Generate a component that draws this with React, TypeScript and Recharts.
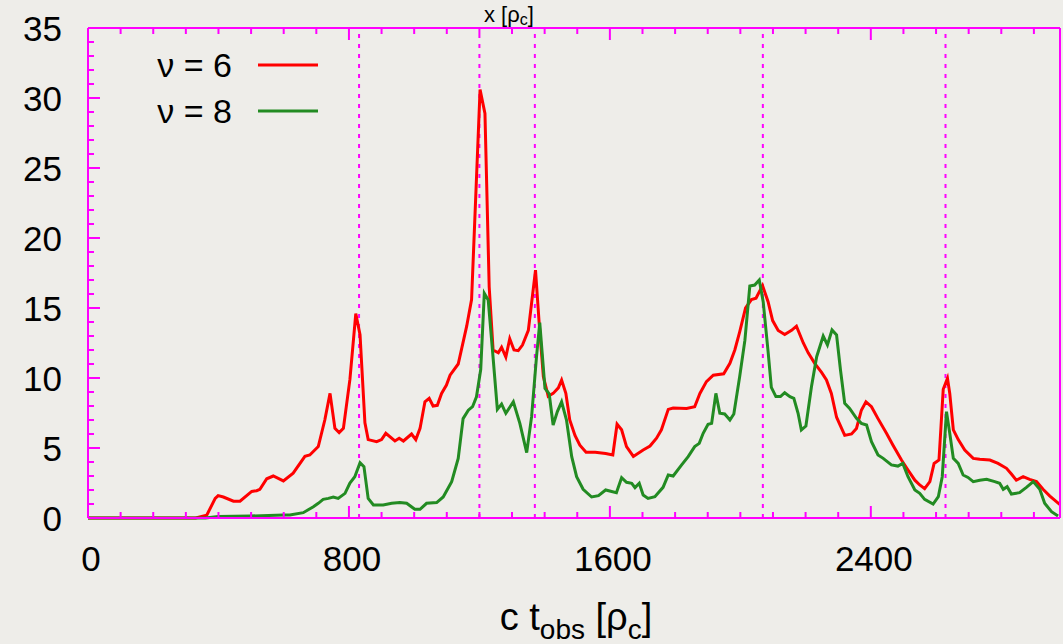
import React from "react";
import { LineChart, Line, XAxis, YAxis, ReferenceLine, Legend } from "recharts";

// nu = 6 (red)
const nu6T = [
  0, 330, 364, 390, 399, 415, 446, 466, 502, 517, 527, 548, 568, 599, 629, 665, 680, 706, 726, 742,
  757, 770, 783, 803, 821, 834, 849, 859, 885, 900, 913, 941, 954, 967, 992, 1005, 1018, 1033, 1046, 1058,
  1071, 1084, 1099, 1110, 1135, 1161, 1176, 1202, 1217, 1230, 1242, 1258, 1268, 1281, 1293, 1306, 1319, 1332, 1350, 1372,
  1383, 1396, 1411, 1426, 1442, 1452, 1465, 1477, 1493, 1508, 1527, 1555, 1587, 1609, 1622, 1636, 1651, 1672, 1702, 1723,
  1743, 1758, 1779, 1794, 1835, 1860, 1876, 1896, 1917, 1949, 1968, 1983, 1998, 2016, 2034, 2048, 2068, 2085, 2099, 2116,
  2136, 2157, 2172, 2193, 2208, 2228, 2249, 2264, 2279, 2295, 2320, 2341, 2356, 2371, 2385, 2402, 2422, 2448, 2468, 2494,
  2514, 2535, 2550, 2565, 2581, 2594, 2609, 2622, 2635, 2642, 2653, 2668, 2688, 2714, 2734, 2765, 2790, 2816, 2831, 2846,
  2867, 2887, 2908, 2928, 2949, 2980,
];
const nu6Y = [
  0, 0, 0.2, 1.4, 1.6, 1.5, 1.2, 1.2, 1.9, 1.95, 2.05, 2.8, 3.0, 2.65, 3.2, 4.4, 4.5, 5.1, 7.0, 8.9,
  6.4, 6.1, 6.4, 9.9, 14.6, 13.1, 6.8, 5.6, 5.45, 5.6, 6.05, 5.5, 5.7, 5.5, 6.0, 5.6, 6.4, 8.3, 8.55, 8.0,
  8.05, 8.9, 9.5, 10.2, 11.0, 13.7, 15.6, 30.6, 28.9, 16.5, 12.0, 11.8, 12.2, 11.5, 12.8, 12.0, 11.95, 12.35, 13.4, 17.7,
  14.0, 10.1, 8.7, 8.9, 9.3, 9.85, 8.9, 7.0, 5.9, 5.2, 4.7, 4.7, 4.6, 4.5, 6.7, 6.3, 5.1, 4.4, 4.86, 5.14,
  5.7, 6.3, 7.76, 7.86, 7.83, 7.95, 8.9, 9.74, 10.2, 10.3, 11.05, 12.0, 13.3, 15.0, 15.6, 15.7, 16.6, 15.45, 14.1, 13.4,
  13.1, 13.4, 13.7, 12.5, 11.8, 11.05, 10.4, 9.86, 8.9, 7.2, 5.9, 6.0, 6.4, 7.7, 8.3, 7.95, 7.1, 6.05, 5.2, 4.14,
  3.43, 2.7, 2.36, 2.1, 2.6, 3.9, 4.14, 9.2, 9.98, 8.9, 6.3, 5.6, 4.86, 4.26, 4.19, 4.14, 3.9, 3.55, 3.14, 2.7,
  2.95, 2.76, 2.6, 2.05, 1.57, 0.95,
];

// nu = 8 (green)
const nu8T = [
  0, 360, 399, 497, 599, 619, 660, 691, 706, 721, 737, 752, 767, 788, 803, 818, 834, 846, 859, 875,
  905, 931, 956, 977, 1002, 1018, 1038, 1069, 1089, 1115, 1135, 1150, 1166, 1179, 1191, 1204, 1215, 1227, 1240, 1255,
  1268, 1281, 1304, 1324, 1345, 1360, 1375, 1385, 1401, 1414, 1426, 1439, 1452, 1467, 1483, 1498, 1518, 1544, 1565, 1587,
  1620, 1636, 1651, 1667, 1677, 1690, 1702, 1717, 1738, 1763, 1779, 1794, 1820, 1840, 1860, 1874, 1886, 1901, 1912, 1925,
  1937, 1952, 1968, 1980, 1998, 2014, 2029, 2044, 2058, 2070, 2085, 2095, 2109, 2123, 2136, 2152, 2164, 2177, 2187, 2201,
  2218, 2234, 2254, 2267, 2281, 2295, 2307, 2320, 2335, 2356, 2371, 2387, 2402, 2422, 2438, 2463, 2483, 2498, 2514, 2535,
  2550, 2565, 2591, 2607, 2619, 2632, 2642, 2653, 2668, 2683, 2698, 2714, 2734, 2755, 2780, 2795, 2806, 2818, 2831, 2856,
  2877, 2898, 2918, 2933, 2954, 2974,
];
const nu8Y = [
  0, 0, 0.1, 0.14, 0.21, 0.21, 0.38, 0.8, 1.05, 1.33, 1.4, 1.5, 1.4, 1.76, 2.5, 2.95, 3.95, 3.67, 1.4, 0.93,
  0.93, 1.05, 1.1, 1.05, 0.62, 0.62, 1.05, 1.1, 1.5, 2.6, 4.26, 7.1, 7.7, 7.95, 8.66, 10.6, 16.05, 15.57, 12.0, 7.76,
  8.14, 7.48, 8.3, 6.76, 4.67, 7.24, 11.5, 13.95, 9.26, 8.86, 6.64, 7.6, 8.3, 7.0, 4.38, 2.95, 2.05, 1.5, 1.6, 2.0,
  1.8, 2.88, 2.55, 2.48, 2.17, 2.48, 1.64, 1.4, 1.52, 2.19, 3.07, 3.0, 3.79, 4.38, 5.1, 5.33, 6.05, 6.69, 6.76, 8.9,
  7.48, 7.43, 7.0, 7.43, 10.1, 12.7, 16.57, 16.64, 17.0, 15.45, 11.9, 9.33, 8.67, 8.67, 8.95, 8.67, 8.55, 7.48, 6.29, 6.57,
  9.38, 11.52, 13.0, 12.36, 13.43, 13.07, 10.57, 8.19, 7.83, 7.12, 6.76, 6.64, 5.45, 4.5, 4.26, 3.79, 3.71, 3.9, 2.95, 2.0,
  1.76, 1.33, 1.0, 1.52, 2.95, 7.6, 6.05, 4.26, 3.9, 3.07, 2.9, 2.6, 2.7, 2.76, 2.6, 2.48, 2.05, 2.24, 1.71, 1.81,
  2.19, 2.6, 2.05, 1.05, 0.45, 0.14,
];

const markerT = [831, 1200, 1370, 2069, 2629];

const xMajorTicks = [0, 800, 1600, 2400];
const xMinorTicks = [
  0, 100, 200, 300, 400, 500, 600, 700, 800, 900, 1000, 1100, 1200, 1300, 1400, 1500, 1600, 1700, 1800, 1900,
  2000, 2100, 2200, 2300, 2400, 2500, 2600, 2700, 2800, 2900,
];
const yMajorTicks = [0, 5, 10, 15, 20, 25, 30, 35];
const yMinorTicks = [
  0, 1, 2, 3, 4, 5, 6, 7, 8, 9, 10, 11, 12, 13, 14, 15, 16, 17, 18, 19, 20, 21, 22, 23, 24, 25, 26, 27, 28, 29,
  30, 31, 32, 33, 34, 35,
];

const nu6 = nu6T.map((t, i) => ({ t, y: nu6Y[i] }));
const nu8 = nu8T.map((t, i) => ({ t, y: nu8Y[i] }));

const MAGENTA = "#ff00ff";
const FONT = "'Liberation Sans', Arial, Helvetica, sans-serif";
const X_MAX = 2980;

// gnuplot-style inward ticks, long on majors, labels on bottom/left only
function EdgeTick(props: any) {
  const { x, y, payload, side } = props;
  const v = payload?.value;
  const horiz = side === "bottom" || side === "top";
  const major = horiz ? xMajorTicks.includes(v) : yMajorTicks.includes(v);
  const len = major ? 12 : 6;
  let line;
  if (side === "bottom") line = <line x1={x} x2={x} y1={y} y2={y - len} />;
  else if (side === "top") line = <line x1={x} x2={x} y1={y} y2={y + len} />;
  else if (side === "left") line = <line x1={x} x2={x + len} y1={y} y2={y} />;
  else line = <line x1={x} x2={x - len} y1={y} y2={y} />;
  return (
    <g>
      <g stroke={MAGENTA} strokeWidth={2}>{line}</g>
      {major && side === "bottom" && (
        <text x={x + 3} y={y + 53} textAnchor="middle" fontFamily={FONT} fontSize={35} fill="#000">
          {v}
        </text>
      )}
      {major && side === "left" && (
        <text x={x - 26} y={y} textAnchor="end" dominantBaseline="central" fontFamily={FONT} fontSize={35} fill="#000">
          {v}
        </text>
      )}
    </g>
  );
}

function XTitle(props: any) {
  const vb = props.viewBox ?? { x: 88, width: 972 };
  return (
    <text x={vb.x + vb.width / 2 + 2} y={630} textAnchor="middle" fontFamily={FONT} fontSize={38} fill="#000">
      c t<tspan fontSize={28} dy={9}>obs</tspan>
      <tspan dy={-9}> [ρ</tspan>
      <tspan fontSize={28} dy={9}>c</tspan>
      <tspan dy={-9}>]</tspan>
    </text>
  );
}

// fits in the strip above the frame
function TopTitle() {
  return (
    <text x={484} y={22} fontFamily={FONT} fontSize={22} fill="#000">
      x [ρ<tspan fontSize={16} dy={3}>c</tspan>
      <tspan dy={-3}>]</tspan>
    </text>
  );
}

function KeyBox(props: any) {
  const items = props.payload ?? [];
  return (
    <svg width={340} height={110} style={{ display: "block" }}>
      {items.map((p: any, i: number) => (
        <g key={p.value}>
          <text
            x={232}
            y={35 + 46 * i}
            textAnchor="end"
            dominantBaseline="central"
            fontFamily={FONT}
            fontSize={34}
            fill="#000"
          >
            {p.value}
          </text>
          <line x1={258} x2={318} y1={35 + 46 * i} y2={35 + 46 * i} stroke={p.color} strokeWidth={3} />
        </g>
      ))}
    </svg>
  );
}

export default function App() {
  return (
    <div style={{ width: 1063, height: 644, background: "#eeede9", position: "relative" }}>
      <style>{"body{margin:0;}"}</style>
      <LineChart width={1063} height={644} margin={{ top: 27, right: 2, bottom: 125, left: 87 }}>
        <XAxis
          xAxisId="bottom"
          type="number"
          dataKey="t"
          domain={[0, X_MAX]}
          ticks={xMinorTicks}
          interval={0}
          height={1}
          tickSize={0}
          tickMargin={0}
          tickLine={false}
          tick={<EdgeTick side="bottom" />}
          axisLine={{ stroke: MAGENTA, strokeWidth: 2 }}
          label={<XTitle />}
          allowDataOverflow
        />
        <XAxis
          xAxisId="top"
          orientation="top"
          type="number"
          dataKey="t"
          domain={[0, X_MAX]}
          ticks={xMinorTicks}
          interval={0}
          height={1}
          tickSize={0}
          tickMargin={0}
          tickLine={false}
          tick={<EdgeTick side="top" />}
          axisLine={{ stroke: MAGENTA, strokeWidth: 2 }}
          label={<TopTitle />}
          allowDataOverflow
        />
        <YAxis
          yAxisId="left"
          type="number"
          domain={[0, 35]}
          ticks={yMinorTicks}
          interval={0}
          width={1}
          tickSize={0}
          tickMargin={0}
          tickLine={false}
          tick={<EdgeTick side="left" />}
          axisLine={{ stroke: MAGENTA, strokeWidth: 2 }}
        />
        <YAxis
          yAxisId="right"
          orientation="right"
          type="number"
          domain={[0, 35]}
          ticks={yMinorTicks}
          interval={0}
          width={1}
          tickSize={0}
          tickMargin={0}
          tickLine={false}
          tick={<EdgeTick side="right" />}
          axisLine={{ stroke: MAGENTA, strokeWidth: 2 }}
        />
        {markerT.map((t) => (
          <ReferenceLine
            key={t}
            x={t}
            xAxisId="bottom"
            yAxisId="left"
            stroke={MAGENTA}
            strokeWidth={2}
            strokeDasharray="4 6"
          />
        ))}
        <Legend
          layout="horizontal"
          verticalAlign="middle"
          align="center"
          content={<KeyBox />}
          wrapperStyle={{ left: 0, top: 30, width: 340, height: 110 }}
        />
        <Line
          data={nu6}
          xAxisId="bottom"
          yAxisId="left"
          dataKey="y"
          name="ν = 6"
          stroke="#ff0000"
          strokeWidth={3}
          dot={false}
          activeDot={false}
          isAnimationActive={false}
        />
        <Line
          data={nu8}
          xAxisId="bottom"
          yAxisId="left"
          dataKey="y"
          name="ν = 8"
          stroke="#228b22"
          strokeWidth={3}
          dot={false}
          activeDot={false}
          isAnimationActive={false}
        />
      </LineChart>
    </div>
  );
}
